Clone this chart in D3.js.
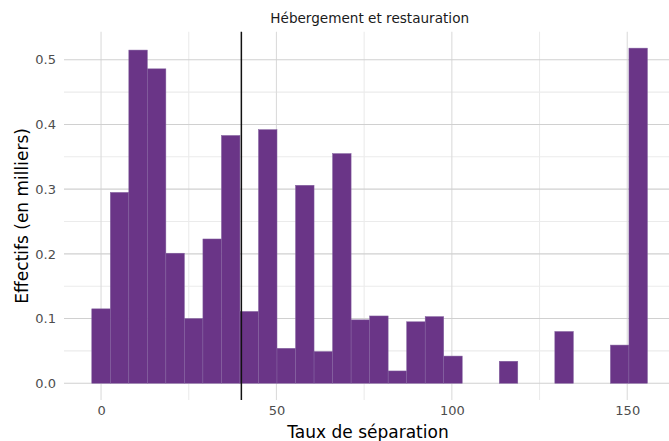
<!DOCTYPE html>
<html>
<head>
<meta charset="utf-8">
<script src="https://cdn.jsdelivr.net/npm/d3@7"></script>
<style>
  html, body { margin: 0; padding: 0; background: #fff; }
  text { font-family: "DejaVu Sans", sans-serif; }
</style>
</head>
<body>
<svg id="chart" width="669" height="441"></svg>
<script>
// Histogram of separation rates, 30 bins of equal width centred on multiples of binWidth
const binWidth = 5.28;
const binIndex = [0, 1, 2, 3, 4, 5, 6, 7, 8, 9, 10, 11, 12, 13, 14, 15, 16, 17, 18, 19, 20, 21, 22, 23, 24, 25, 26, 27, 28, 29];
const counts = [0.115, 0.295, 0.515, 0.486, 0.201, 0.100, 0.223, 0.383, 0.111, 0.392,
                0.054, 0.306, 0.049, 0.355, 0.098, 0.104, 0.019, 0.095, 0.103, 0.042,
                0, 0, 0.034, 0, 0, 0.080, 0, 0, 0.059, 0.518];
const xTicks = [0, 50, 100, 150];
const xMinor = [25, 75, 125];
const yTicks = [0, 0.1, 0.2, 0.3, 0.4, 0.5];
const yMinor = [0.05, 0.15, 0.25, 0.35, 0.45];
const threshold = 40;
const title = "Hébergement et restauration";
const xTitle = "Taux de séparation";
const yTitle = "Effectifs (en milliers)";

const svg = d3.select("#chart");
const panel = { left: 64, right: 675.3, top: 31.7, bottom: 400 };

const x = d3.scaleLinear().domain([-10.56, 163.7]).range([panel.left, panel.right]);
const y = d3.scaleLinear().domain([-0.0259, 0.5434]).range([panel.bottom, panel.top]);

const g = svg.append("g");

// minor grid
g.selectAll(".xminor").data(xMinor).join("line")
  .attr("x1", d => x(d)).attr("x2", d => x(d))
  .attr("y1", panel.top).attr("y2", panel.bottom)
  .attr("stroke", "#ebebeb").attr("stroke-width", 1.1);
g.selectAll(".yminor").data(yMinor).join("line")
  .attr("y1", d => y(d)).attr("y2", d => y(d))
  .attr("x1", panel.left).attr("x2", panel.right)
  .attr("stroke", "#ebebeb").attr("stroke-width", 1.1);

// major grid
g.selectAll(".xmajor").data(xTicks).join("line")
  .attr("x1", d => x(d)).attr("x2", d => x(d))
  .attr("y1", panel.top).attr("y2", panel.bottom)
  .attr("stroke", "#dcdcdc").attr("stroke-width", 1.1);
g.selectAll(".ymajor").data(yTicks).join("line")
  .attr("y1", d => y(d)).attr("y2", d => y(d))
  .attr("x1", panel.left).attr("x2", panel.right)
  .attr("stroke", "#d0d0d0").attr("stroke-width", 1.1);

// bars
const bins = binIndex.map((k, i) => ({ x0: (k - 0.5) * binWidth, x1: (k + 0.5) * binWidth, v: counts[i] }));
g.selectAll(".bar").data(bins.filter(b => b.v > 0)).join("rect")
  .attr("x", d => x(d.x0))
  .attr("width", d => x(d.x1) - x(d.x0))
  .attr("y", d => y(d.v))
  .attr("height", d => y(0) - y(d.v))
  .attr("fill", "#6a3587")
  .attr("stroke", "#8462a0")
  .attr("stroke-width", 0.5);

// reference line
g.append("line")
  .attr("x1", x(threshold)).attr("x2", x(threshold))
  .attr("y1", panel.top).attr("y2", panel.bottom)
  .attr("stroke", "#111").attr("stroke-width", 1.5);

// axes (labels only, no domain or ticks)
const xAxis = svg.append("g")
  .attr("transform", `translate(0,${panel.bottom})`)
  .call(d3.axisBottom(x).tickValues(xTicks).tickSize(0).tickPadding(6).tickFormat(d3.format("d")));
xAxis.select(".domain").remove();
xAxis.selectAll("text").attr("font-size", 13).attr("fill", "#4d4d4d")
  .attr("font-family", "DejaVu Sans, sans-serif");

const yAxis = svg.append("g")
  .attr("transform", `translate(${panel.left},0)`)
  .call(d3.axisLeft(y).tickValues(yTicks).tickSize(0).tickPadding(8).tickFormat(d3.format(".1f")));
yAxis.select(".domain").remove();
yAxis.selectAll("text").attr("font-size", 13).attr("fill", "#4d4d4d")
  .attr("font-family", "DejaVu Sans, sans-serif");

// titles
svg.append("text")
  .attr("x", 369.7).attr("y", 23)
  .attr("text-anchor", "middle")
  .attr("font-size", 13.6).attr("fill", "#1a1a1a")
  .text(title);

svg.append("text")
  .attr("x", 368).attr("y", 438)
  .attr("text-anchor", "middle")
  .attr("font-size", 17).attr("fill", "#000")
  .text(xTitle);

svg.append("text")
  .attr("transform", `translate(28,${(panel.top + panel.bottom) / 2 + 0}) rotate(-90)`)
  .attr("text-anchor", "middle")
  .attr("font-size", 17).attr("fill", "#000")
  .text(yTitle);
</script>
</body>
</html>
